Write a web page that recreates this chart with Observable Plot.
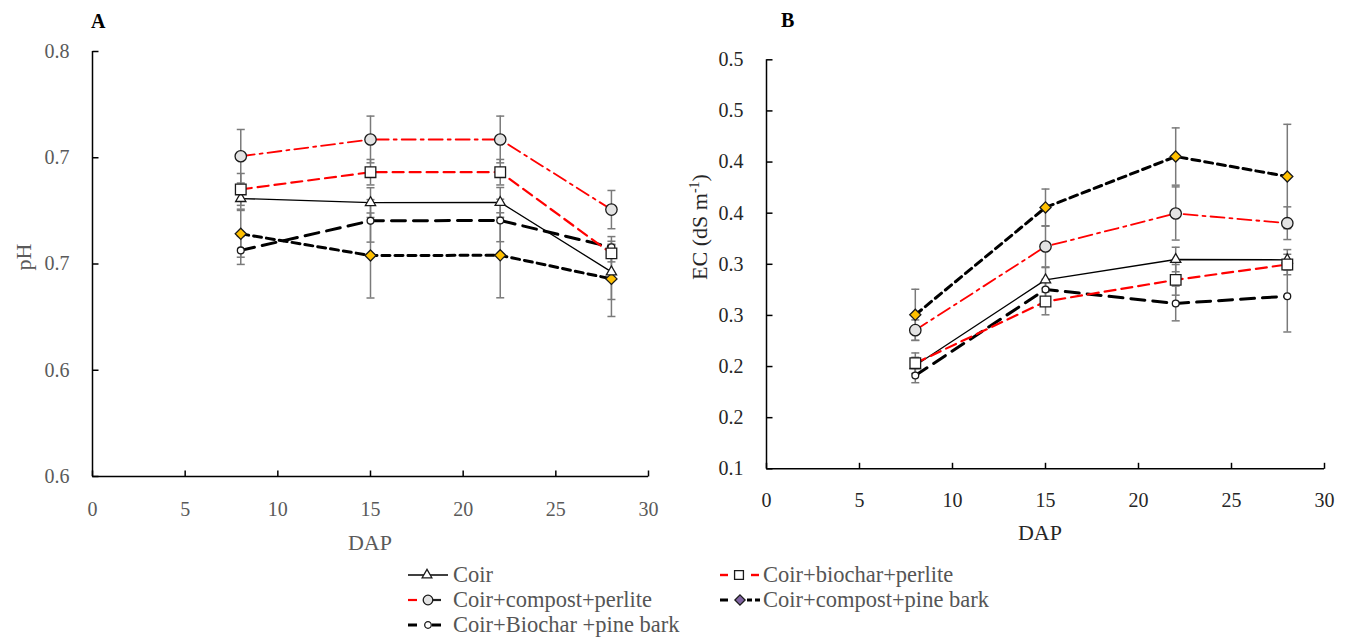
<!DOCTYPE html>
<html><head><meta charset="utf-8">
<script src="https://cdn.jsdelivr.net/npm/d3@7"></script>
<script src="https://cdn.jsdelivr.net/npm/@observablehq/plot@0.6"></script>
<style>
body{margin:0;background:#fff;}
#wrap{position:relative;width:1348px;height:637px;overflow:hidden;font-family:'Liberation Serif','Times New Roman','DejaVu Serif',serif;}
#wrap > svg{position:absolute;}
#wrap text{font-family:'Liberation Serif','Times New Roman','DejaVu Serif',serif !important;}
</style></head><body><div id="wrap"></div>
<script>
// ---------- data ----------
const dap = [8, 15, 22, 28];
const seriesNames = ["Coir", "Coir+biochar+perlite", "Coir+compost+perlite", "Coir+compost+pine bark", "Coir+Biochar +pine bark"];

// Panel A: pH
const phCoir              = [0.7308, 0.7289, 0.7290, 0.6963];
const phBiocharPerlite    = [0.7351, 0.7432, 0.7432, 0.7050];
const phCompostPerlite    = [0.7507, 0.7586, 0.7586, 0.7256];
const phCompostPineBark   = [0.7142, 0.7040, 0.7041, 0.6930];
const phBiocharPineBark   = [0.7064, 0.7203, 0.7205, 0.7079];
const phCoirErr            = [0.005, 0.007, 0.007, 0.013];
const phBiocharPerliteErr  = [0.0075, 0.006, 0.006, 0.004];
const phCompostPerliteErr  = [0.0126, 0.011, 0.011, 0.009];
const phCompostPineBarkErr = [0.011, 0.020, 0.020, 0.0177];
const phBiocharPineBarkErr = [0.0066, 0.010, 0.010, 0.005];

// Panel B: EC
const ecCoir              = [0.2010, 0.2848, 0.3047, 0.3044];
const ecBiocharPerlite    = [0.2033, 0.2636, 0.2848, 0.2998];
const ecCompostPerlite    = [0.2356, 0.3174, 0.3497, 0.3402];
const ecCompostPineBark   = [0.2506, 0.3556, 0.4054, 0.3859];
const ecBiocharPineBark   = [0.1912, 0.2754, 0.2617, 0.2688];
const ecCoirErr            = [0.008, 0.012, 0.012, 0.010];
const ecBiocharPerliteErr  = [0.010, 0.013, 0.015, 0.010];
const ecCompostPerliteErr  = [0.010, 0.020, 0.026, 0.016];
const ecCompostPineBarkErr = [0.025, 0.018, 0.028, 0.051];
const ecBiocharPineBarkErr = [0.007, 0.010, 0.017, 0.035];

// ticks
const xTicks = [0, 5, 10, 15, 20, 25, 30];
const phTicks = [0.60, 0.65, 0.70, 0.75, 0.80];
const phTickLabels = ["0.6", "0.6", "0.7", "0.7", "0.8"];
const ecTicks = [0.10, 0.15, 0.20, 0.25, 0.30, 0.35, 0.40, 0.45, 0.50];
const ecTickLabels = ["0.1", "0.2", "0.2", "0.3", "0.3", "0.4", "0.4", "0.5", "0.5"];

// ---------- styles ----------
const FONT = "'Liberation Serif','Times New Roman','DejaVu Serif',serif";
const seriesStyle = {
  "Coir":                    {stroke: "#000", width: 1.3, dash: null,       symbol: "triangle", r: 3.8, fill: "#fff"},
  "Coir+biochar+perlite":    {stroke: "#ff0000", width: 2.2, dash: "11,6", symbol: "square",   r: 6.0, fill: "#fff"},
  "Coir+compost+perlite":    {stroke: "#ff0000", width: 1.8, dash: "14,5,3,5", symbol: "circle", r: 5.7, fill: "#e3e3e3"},
  "Coir+compost+pine bark":  {stroke: "#000", width: 3.0, dash: "8,5",     symbol: "diamond2", r: 5.0, fill: "#ffc000"},
  "Coir+Biochar +pine bark": {stroke: "#000", width: 3.0, dash: "14,8",    symbol: "circle",   r: 3.4, fill: "#fff"}
};
const drawOrder = ["Coir+Biochar +pine bark", "Coir+compost+pine bark", "Coir", "Coir+compost+perlite", "Coir+biochar+perlite"];

function buildRows(values, errs) {
  const rows = [];
  seriesNames.forEach((s, k) => {
    dap.forEach((x, i) => rows.push({series: s, dap: x, value: values[k][i], err: errs[k][i]}));
  });
  return rows;
}
const phRows = buildRows(
  [phCoir, phBiocharPerlite, phCompostPerlite, phCompostPineBark, phBiocharPineBark],
  [phCoirErr, phBiocharPerliteErr, phCompostPerliteErr, phCompostPineBarkErr, phBiocharPineBarkErr]);
const ecRows = buildRows(
  [ecCoir, ecBiocharPerlite, ecCompostPerlite, ecCompostPineBark, ecBiocharPineBark],
  [ecCoirErr, ecBiocharPerliteErr, ecCompostPerliteErr, ecCompostPineBarkErr, ecBiocharPineBarkErr]);

const tickUp = {draw(ctx) { ctx.moveTo(0, 0); ctx.lineTo(0, -6); }};
const tickRight = {draw(ctx) { ctx.moveTo(0, 0); ctx.lineTo(6, 0); }};
const cap = {draw(ctx) { ctx.moveTo(-4, 0); ctx.lineTo(4, 0); }};

function panel({rows, yDomain, yTicks, yLabels, color, width, height, mL, mR, mT, mB, padX}) {
  const labelOf = new Map(yTicks.map((t, i) => [t, yLabels[i]]));
  const marks = [
    Plot.ruleX(rows, {x: "dap", y1: d => d.value - d.err, y2: d => d.value + d.err, stroke: "#7a7a7a", strokeWidth: 1.5}),
    Plot.dot(rows, {x: "dap", y: d => d.value - d.err, symbol: cap, stroke: "#7a7a7a", strokeWidth: 1.5, fill: "none"}),
    Plot.dot(rows, {x: "dap", y: d => d.value + d.err, symbol: cap, stroke: "#7a7a7a", strokeWidth: 1.5, fill: "none"})
  ];
  for (const s of drawOrder) {
    const st = seriesStyle[s];
    marks.push(Plot.line(rows.filter(d => d.series === s), {
      x: "dap", y: "value", stroke: st.stroke, strokeWidth: st.width,
      strokeDasharray: st.dash || undefined
    }));
  }
  for (const s of drawOrder) {
    const st = seriesStyle[s];
    marks.push(Plot.dot(rows.filter(d => d.series === s), {
      x: "dap", y: "value", symbol: st.symbol, r: st.r, fill: st.fill, stroke: "#1a1a1a", strokeWidth: 1.3
    }));
  }
  marks.push(
    Plot.ruleX([0], {stroke: "#000", strokeWidth: 1.5}),
    Plot.ruleY([yDomain[0]], {stroke: "#000", strokeWidth: 1.5}),
    Plot.dot(xTicks, {x: d => d, frameAnchor: "bottom", symbol: tickUp, stroke: "#000", strokeWidth: 1.5, fill: "none"}),
    Plot.dot(yTicks, {y: d => d, frameAnchor: "left", symbol: tickRight, stroke: "#000", strokeWidth: 1.5, fill: "none"}),
    Plot.axisX({ticks: xTicks, tickSize: 0, tickPadding: padX, label: null, fontSize: 20, fontFamily: FONT, fill: color}),
    Plot.axisY({ticks: yTicks, tickSize: 0, tickPadding: 23, label: null, fontSize: 20, fontFamily: FONT, fill: color, tickFormat: d => labelOf.get(d)})
  );
  return Plot.plot({
    width, height, marginLeft: mL, marginRight: mR, marginTop: mT, marginBottom: mB,
    x: {domain: [0, 30]},
    y: {domain: yDomain},
    style: {fontFamily: FONT, fontSize: "20px", color: color, background: "transparent", overflow: "visible"},
    marks
  });
}

const wrap = document.getElementById("wrap");
const svgA = panel({rows: phRows, yDomain: [0.6, 0.8], yTicks: phTicks, yLabels: phTickLabels, color: "#5a5a5a",
  width: 680, height: 560, mL: 92, mR: 32, mT: 51, mB: 84, padX: 25});
svgA.style.left = "0px"; svgA.style.top = "0px";
wrap.appendChild(svgA);

const svgB = panel({rows: ecRows, yDomain: [0.1, 0.5], yTicks: ecTicks, yLabels: ecTickLabels, color: "#262626",
  width: 668, height: 560, mL: 86, mR: 24, mT: 59.3, mB: 91.7, padX: 24});
svgB.style.left = "680px"; svgB.style.top = "0px";
wrap.appendChild(svgB);

// ---------- overlay: titles, axis labels, legend ----------
const ov = d3.select(wrap).append("svg").attr("width", 1348).attr("height", 637)
  .style("left", "0px").style("top", "0px").style("pointer-events", "none");

ov.append("text").attr("x", 91).attr("y", 28).attr("font-size", 20).attr("font-weight", "bold").attr("fill", "#000").text("A");
ov.append("text").attr("x", 781).attr("y", 27).attr("font-size", 20).attr("font-weight", "bold").attr("fill", "#000").text("B");

ov.append("text").attr("transform", "translate(31,257) rotate(-90)").attr("text-anchor", "middle")
  .attr("font-size", 22).attr("fill", "#5a5a5a").text("pH");
const ec = ov.append("text").attr("transform", "translate(707,227) rotate(-90)").attr("text-anchor", "middle")
  .attr("font-size", 22).attr("fill", "#262626");
ec.append("tspan").text("EC (dS m");
ec.append("tspan").attr("dy", -8).attr("font-size", 14).text("-1");
ec.append("tspan").attr("dy", 8).text(")");

ov.append("text").attr("x", 370).attr("y", 550).attr("text-anchor", "middle").attr("font-size", 22).attr("fill", "#5a5a5a").text("DAP");
ov.append("text").attr("x", 1040).attr("y", 540).attr("text-anchor", "middle").attr("font-size", 22).attr("fill", "#262626").text("DAP");

// legend
const sym = (type, r) => d3.symbol(type, Math.PI * r * r)();
const leg = ov.append("g");
function legendItem(yc, textX, label, segs, marker) {
  for (const sg of segs) {
    leg.append("line").attr("x1", sg[0]).attr("x2", sg[1]).attr("y1", yc).attr("y2", yc)
      .attr("stroke", sg[2]).attr("stroke-width", sg[3]);
  }
  leg.append("path").attr("d", sym(marker.type, marker.r)).attr("transform", `translate(${marker.x},${yc})`)
    .attr("fill", marker.fill).attr("stroke", "#1a1a1a").attr("stroke-width", 1.3);
  leg.append("text").attr("x", textX).attr("y", yc + 7).attr("font-size", 22.5).attr("fill", "#555").text(label);
}
legendItem(575, 453, seriesNames[0], [[408, 448, "#000", 1.3]], {type: d3.symbolTriangle, r: 3.6, x: 427, fill: "#fff"});
legendItem(600, 453, seriesNames[2], [[408, 417, "#ff0000", 2.2], [433, 441, "#222", 2.2]], {type: d3.symbolCircle, r: 4.8, x: 428, fill: "#e3e3e3"});
legendItem(625, 453, seriesNames[4], [[408, 417, "#000", 3], [432, 441, "#000", 3]], {type: d3.symbolCircle, r: 3.3, x: 428, fill: "#fff"});
legendItem(575, 763, seriesNames[1], [[720, 728, "#ff0000", 2.4], [751, 759, "#ff0000", 2.4]], {type: d3.symbolSquare, r: 5.0, x: 739, fill: "#fff"});
legendItem(600, 763, seriesNames[3], [[720, 728, "#000", 3], [747, 752, "#000", 3], [755, 760, "#000", 3]], {type: d3.symbolDiamond2, r: 4.6, x: 740, fill: "#8064a2"});
</script></body></html>
